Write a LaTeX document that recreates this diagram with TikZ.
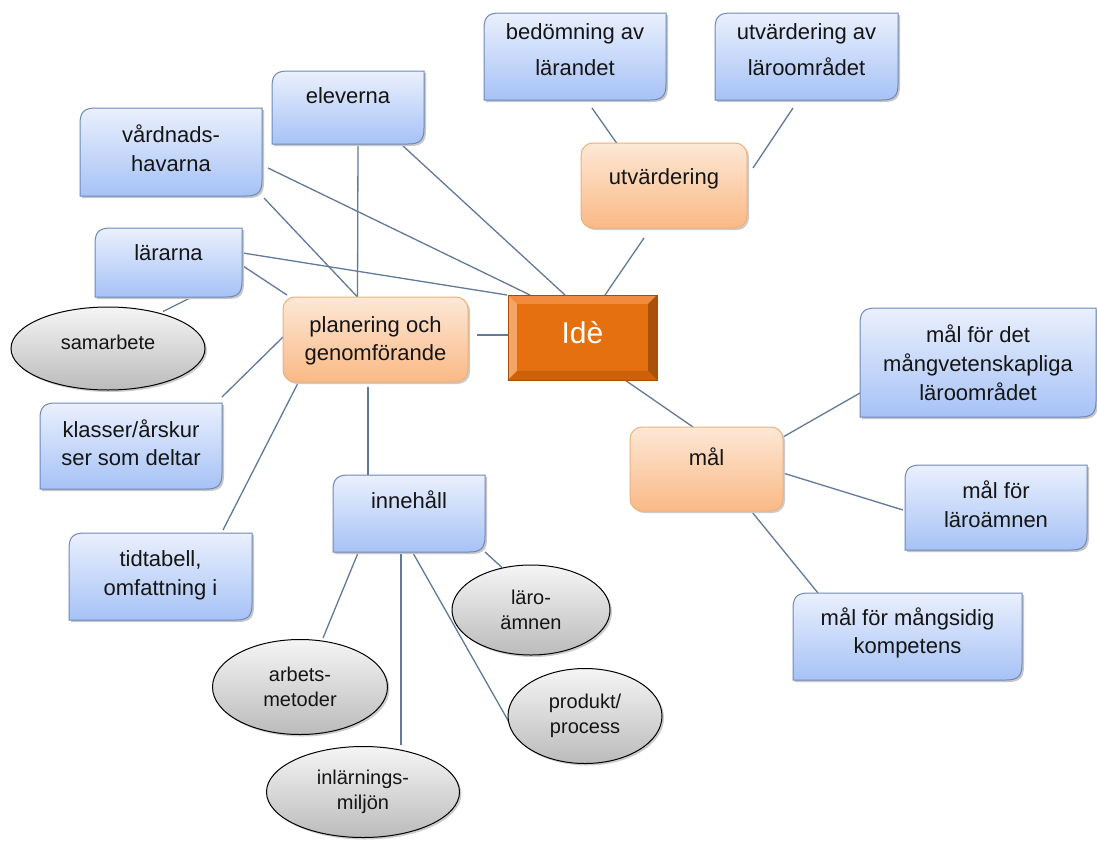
\documentclass[tikz,border=0pt]{standalone}
\usepackage{fontspec}
\setmainfont{Liberation Sans}
\usetikzlibrary{calc,shapes.geometric}
\pgfdeclarelayer{bg}
\pgfdeclarelayer{lines}
\pgfdeclarelayer{shapes}
\pgfsetlayers{bg,lines,shapes,main}
\definecolor{connc}{HTML}{62799A}
\definecolor{bluetop}{HTML}{EAF0FD}
\definecolor{bluebot}{HTML}{A6C2F6}
\definecolor{blueline}{HTML}{6F88B8}
\definecolor{orgtop}{HTML}{FDE8D6}
\definecolor{orgbot}{HTML}{FAB985}
\definecolor{orgline}{HTML}{EFB07C}
\definecolor{graytop}{HTML}{F5F5F5}
\definecolor{graybot}{HTML}{BBBBBB}
\definecolor{idebase}{HTML}{E36C09}
\definecolor{idetop}{HTML}{F28B3E}
\definecolor{ideleft}{HTML}{F5A466}
\definecolor{ideright}{HTML}{A9500B}
\definecolor{idebot}{HTML}{CC6109}
\definecolor{ideface}{HTML}{E4700F}
\definecolor{txt}{HTML}{151515}
% box text: width, height, first baseline, font size, baselineskip, text
\newcommand\btext[6]{\parbox[c][#2pt][t]{#1pt}{\centering\fontsize{#4}{#5}\selectfont\rule{0pt}{#3pt}#6}}
\newcommand\blueshape[1]{%
  \begin{pgfonlayer}{shapes}
  \path[shade, top color=bluetop, bottom color=bluebot, draw=blueline, line width=1pt,
        preaction={fill=black!22, transform canvas={xshift=2pt,yshift=-2pt}}]
    ($(#1.north west)+(0,16)$) .. controls ($(#1.north west)+(0,4)$) and ($(#1.north west)+(4,0)$) .. ($(#1.north west)+(16,0)$)
    -- (#1.north east) -- ($(#1.south east)+(0,-16)$)
    .. controls ($(#1.south east)+(0,-4)$) and ($(#1.south east)+(-4,0)$) .. ($(#1.south east)+(-16,0)$)
    -- (#1.south west) -- cycle;
  \end{pgfonlayer}}
\newcommand\orangeshape[1]{%
  \begin{pgfonlayer}{shapes}
  \path[shade, top color=orgtop, bottom color=orgbot, draw=orgline, line width=1pt, rounded corners=12pt,
        preaction={fill=black!20, transform canvas={xshift=2pt,yshift=-2pt}}]
    (#1.north west) rectangle (#1.south east);
  \end{pgfonlayer}}
\begin{document}
\begin{tikzpicture}[x=1pt,y=-1pt,
  tb/.style={inner sep=0pt, outer sep=0pt, text=txt},
  ell/.style={ellipse, draw=black, line width=1pt, top color=graytop, bottom color=graybot,
     inner sep=0pt, align=center, text=txt, font=\fontsize{20}{25}\selectfont,
     preaction={fill=black!20, transform canvas={xshift=2pt,yshift=-2pt}}},
  conn/.style={draw=connc, line width=1.3pt}]
\begin{pgfonlayer}{bg}
\fill[white] (0,0) rectangle (1097,841);
\end{pgfonlayer}
\useasboundingbox (0,0) rectangle (1097,841);

% blue boxes
\node[tb] (bed) at (575,56.5) {\btext{182}{87}{26}{22}{36}{bedömning av\\lärandet}};
\node[tb] (uvl) at (806.5,56.5) {\btext{183}{87}{26}{22}{36}{utvärdering av\\läroområdet}};
\node[tb] (ele) at (348,107.5) {\btext{152}{73}{32}{22}{29}{eleverna}};
\node[tb] (vh) at (171,152) {\btext{182}{88}{34}{22}{29}{vårdnads-\\havarna}};
\node[tb] (lar) at (168.5,262.5) {\btext{147}{69}{32}{22}{29}{lärarna}};
\node[tb] (kl) at (131,446) {\btext{182}{86}{34}{22}{28}{klasser/årskur\\ser som deltar}};
\node[tb] (tid) at (160.5,576.5) {\btext{183}{87}{33}{22}{29}{tidtabell,\\omfattning i}};
\node[tb] (inn) at (409,513.5) {\btext{152}{77}{33}{22}{29}{innehåll}};
\node[tb] (m1) at (978,362.5) {\btext{236}{109}{34}{22}{29}{mål för det\\mångvetenskapliga\\läroområdet}};
\node[tb] (m2) at (996,507.5) {\btext{182}{85}{33}{22}{29}{mål för\\läroämnen}};
\node[tb] (m3) at (907.5,636.5) {\btext{229}{87}{32}{22}{28}{mål för mångsidig\\kompetens}};
\foreach \n in {bed,uvl,ele,vh,lar,kl,tid,inn,m1,m2,m3}{\blueshape{\n}}

% orange boxes
\node[tb] (utv) at (664,185.5) {\btext{166}{85}{41}{22}{29}{utvärdering}};
\node[tb] (plan) at (375.5,339.5) {\btext{185}{85}{35}{22}{28}{planering och\\genomförande}};
\node[tb] (mal) at (706.5,469) {\btext{153}{84}{38}{22}{29}{mål}};
\foreach \n in {utv,plan,mal}{\orangeshape{\n}}

% central node
\node[tb, text=white] (ide) at (582.5,337.5) {\btext{149}{85}{48}{30}{36}{Idè}};
\begin{pgfonlayer}{shapes}
  \fill[idebase] (ide.north west) rectangle (ide.south east);
  \fill[idetop] (ide.north west) -- (ide.north east) -- ($(ide.north east)+(-9,9)$) -- ($(ide.north west)+(9,9)$) -- cycle;
  \fill[ideleft] (ide.north west) -- ($(ide.north west)+(9,9)$) -- ($(ide.south west)+(9,-9)$) -- (ide.south west) -- cycle;
  \fill[ideright] (ide.north east) -- (ide.south east) -- ($(ide.south east)+(-9,-9)$) -- ($(ide.north east)+(-9,9)$) -- cycle;
  \fill[idebot] (ide.south west) -- (ide.south east) -- ($(ide.south east)+(-9,-9)$) -- ($(ide.south west)+(9,-9)$) -- cycle;
  \fill[ideface] ($(ide.north west)+(9,9)$) rectangle ($(ide.south east)+(-9,-9)$);
  \draw[idebot!80!black, line width=0.6pt] (ide.north west) rectangle (ide.south east);
\end{pgfonlayer}

% ellipses
\node[ell, minimum width=194pt, minimum height=83pt, text height=12pt, text depth=11pt] (sam) at (108,348.5) {samarbete};
\node[ell, minimum width=158pt, minimum height=90pt] (laro) at (531,610) {läro-\\ämnen};
\node[ell, minimum width=175pt, minimum height=95pt] (arb) at (300,687) {arbets-\\metoder};
\node[ell, minimum width=193pt, minimum height=91pt] (inl) at (363,792) {inlärnings-\\miljön};
\node[ell, minimum width=154pt, minimum height=95pt] (prod) at (585,716) {produkt/\\process};

% connectors
\begin{pgfonlayer}{lines}
\draw[conn] ($(bed.south)+(17,8)$) -- ($(utv.north)+(-46,2)$);
\draw[conn] ($(uvl.south)+(-13.5,8)$) -- ($(utv.east)+(6,-17.5)$);
\draw[conn] ($(utv.south)+(-20,10)$) -- ($(ide.north)+(22.5,0)$);
\draw[conn] ($(ele.south east)+(-22,1)$) -- ($(ide.north)+(-17.5,0)$);
\draw[conn] ($(vh.east)+(6,16)$) -- ($(ide.north west)+(22,0)$);
\draw[conn] ($(lar.east)+(1,-9.5)$) -- ($(ide.north west)+(-1,0)$);
\draw[conn] ($(vh.south east)+(2,2)$) -- ($(plan.north)+(-18,0)$);
\draw[conn] ($(ele.south)+(10,0)$) -- ($(plan.north)+(-18,0)$);
\draw[conn] ($(lar.east)+(1,3.5)$) -- ($(plan.north west)+(4,-2)$);
\draw[conn] ($(lar.south)+(21.5,1)$) -- ($(sam.center)+(55,-37)$);
\draw[conn] ($(plan.east)+(9,-4.5)$) -- ($(ide.west)+(0,-2.5)$);
\draw[conn] ($(kl.north east)+(0,-6)$) -- ($(plan.west)+(0,-2.5)$);
\draw[conn] ($(tid.north east)+(-29,-3)$) -- ($(plan.south west)+(15,1)$);
\draw[conn] ($(plan.south)+(-7.5,5)$) -- ($(inn.north)+(-41,0)$);
\draw[conn] ($(inn.south)+(-51,1)$) -- ($(arb.north)+(23,-1)$);
\draw[conn] ($(inn.south)+(-8,1)$) -- ($(inl.north)+(38,-1.5)$);
\draw[conn] ($(inn.south)+(4,1)$) -- ($(prod.west)+(2,7)$);
\draw[conn] ($(inn.south east)+(0,0)$) -- ($(laro.north)+(-29,3)$);
\draw[conn] ($(ide.south)+(39.5,-2)$) -- ($(mal.north)+(-13.5,0)$);
\draw[conn] ($(mal.east)+(0,-32)$) -- ($(m1.west)+(0,30.5)$);
\draw[conn] ($(mal.east)+(0,4)$) -- ($(m2.west)+(-2,2.5)$);
\draw[conn] ($(mal.south)+(45.5,1)$) -- ($(m3.north)+(-89.5,0)$);
\end{pgfonlayer}
\end{tikzpicture}
\end{document}
